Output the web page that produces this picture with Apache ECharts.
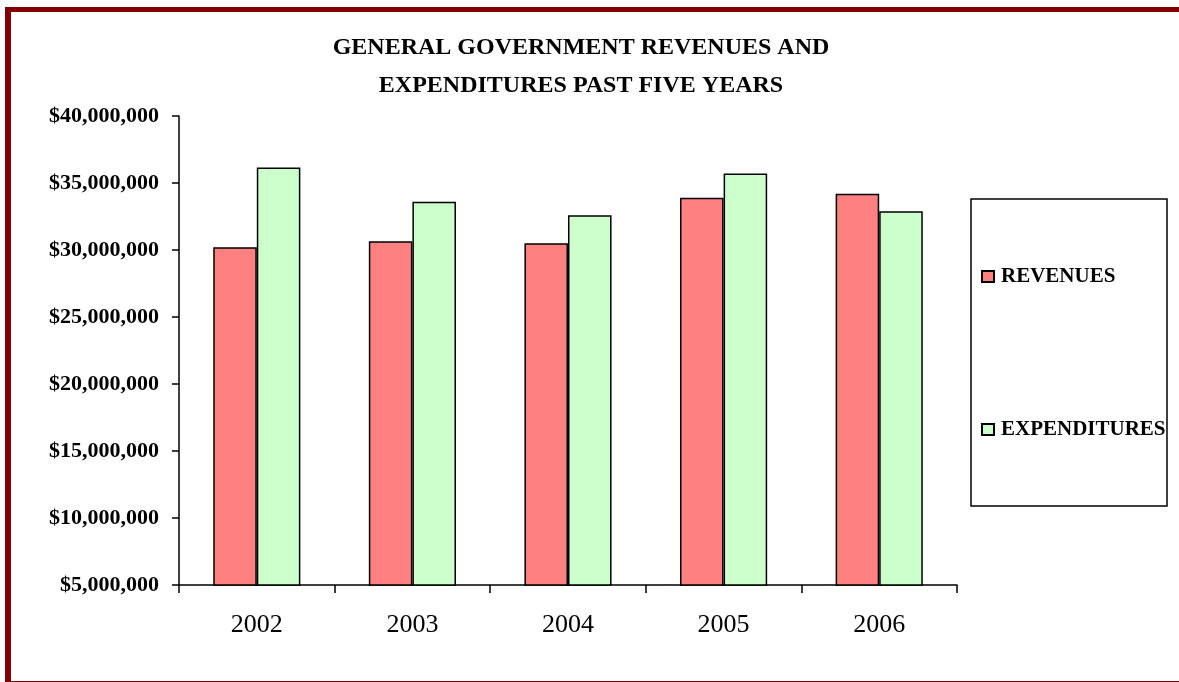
<!DOCTYPE html>
<html><head><meta charset="utf-8">
<script src="https://cdn.jsdelivr.net/npm/echarts@6/dist/echarts.min.js"></script>
<style>html,body{margin:0;padding:0;background:#fff}#c{width:1179px;height:682px}</style>
</head><body><div id="c"></div>
<script>
const categories = ['2002','2003','2004','2005','2006'];
const revenues = [30200000, 30650000, 30500000, 33900000, 34200000];
const expenditures = [36150000, 33600000, 32600000, 35700000, 32900000];
const seriesNames = ['REVENUES','EXPENDITURES'];
const titleLines = ['GENERAL GOVERNMENT REVENUES AND','EXPENDITURES PAST FIVE YEARS'];

const FONT = '"Liberation Serif", "Times New Roman", serif';
const chart = echarts.init(document.getElementById('c'));
function money(v){ return '$' + String(Math.round(v)).replace(/\B(?=(\d{3})+(?!\d))/g, ','); }
chart.setOption({
  animation:false,
  backgroundColor:'#fff',
  title:{
    text: titleLines.join('\n'),
    left: 581, top: 29, textAlign:'center', padding:0,
    textStyle:{fontFamily:FONT, fontWeight:'bold', fontSize:24, color:'#000', lineHeight:38}
  },
  grid:{left:179, right:222, top:116, bottom:97},
  legend:{
    orient:'vertical', left:981, top:266, itemGap:132, padding:0,
    icon:'rect', itemWidth:12, itemHeight:11,
    textStyle:{fontFamily:FONT, fontWeight:'bold', fontSize:21, color:'#000', padding:[0,0,0,2]},
    data: seriesNames
  },
  xAxis:{
    type:'category', data:categories,
    axisLine:{lineStyle:{color:'#000', width:1.5}},
    axisTick:{show:true, length:8, lineStyle:{color:'#000', width:1.5}},
    axisLabel:{fontFamily:FONT, fontSize:26, color:'#000', margin:27}
  },
  yAxis:{
    type:'value', min:5000000, max:40000000, interval:5000000,
    axisLine:{show:true, lineStyle:{color:'#000', width:1.5}},
    axisTick:{show:true, length:7, lineStyle:{color:'#000', width:1.5}},
    splitLine:{show:false},
    axisLabel:{fontFamily:FONT, fontWeight:'bold', fontSize:22, color:'#000', margin:20, formatter:money}
  },
  series:[
    {name:seriesNames[0], type:'bar', data:revenues, barWidth:'28%', barGap:'0%',
     itemStyle:{color:'#ff8080', borderColor:'#000', borderWidth:1.5}},
    {name:seriesNames[1], type:'bar', data:expenditures, barWidth:'28%', barGap:'0%',
     itemStyle:{color:'#ccffcc', borderColor:'#000', borderWidth:1.5}}
  ],
  graphic:[
    {type:'rect', shape:{x:5, y:7, width:6, height:675}, style:{fill:'#800000'}},
    {type:'rect', shape:{x:5, y:7, width:1174, height:5}, style:{fill:'#800000'}},
    {type:'rect', shape:{x:5, y:681, width:1174, height:1}, style:{fill:'#800000'}},
    {type:'rect', shape:{x:971, y:199, width:196, height:307}, style:{fill:'none', stroke:'#000', lineWidth:1.5}}
  ]
});
</script></body></html>
